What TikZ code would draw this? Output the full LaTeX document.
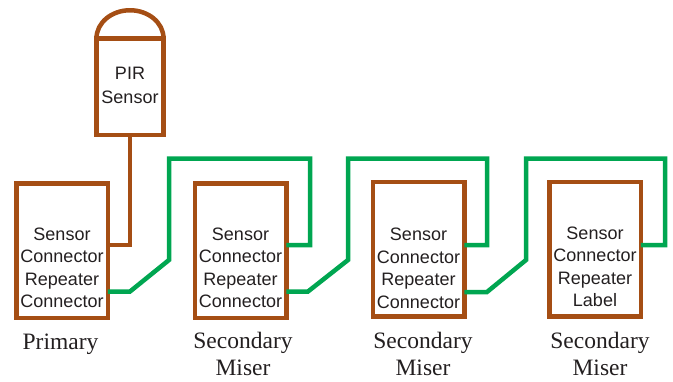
\documentclass[tikz,border=0pt]{standalone}
\usepackage{fontspec}
\setmainfont{Liberation Serif}
\setsansfont{Liberation Sans}
\definecolor{brn}{RGB}{165,78,20}
\definecolor{grn}{RGB}{0,166,81}
\definecolor{txt}{RGB}{35,31,32}
\begin{document}
\begin{tikzpicture}[x=1pt,y=-1pt,
  box/.style={draw=brn, line width=4.5pt, minimum width=91.5pt, minimum height=134.5pt, inner sep=0pt, outer sep=0pt},
  boxtext/.style={font=\sffamily\fontsize{18}{22.5}\selectfont, align=center, text=txt, inner sep=0pt},
  lbl/.style={font=\rmfamily\fontsize{23.5}{27.5}\selectfont, align=center, text=txt, inner sep=0pt},
  gw/.style={draw=grn, line width=4.5pt},
  bw/.style={draw=brn, line width=4.5pt}]
\useasboundingbox (0,0) rectangle (673,381);
% boxes
\node[box] (b1) at (62,250.5) {};
\node[box] (b2) at (240.5,250.5) {};
\node[box] (b3) at (418.5,249) {};
\node[box] (b4) at (595,249) {};
\node[boxtext] (t1) at (62,268) {Sensor\\Connector\\Repeater\\Connector};
\node[boxtext] (t2) at (240.5,268) {Sensor\\Connector\\Repeater\\Connector};
\node[boxtext] (t3) at (418.5,268.5) {Sensor\\Connector\\Repeater\\Connector};
\node[boxtext] (t4) at (595,267) {Sensor\\Connector\\Repeater\\Label};
% PIR sensor
\node[box, minimum width=67pt, minimum height=96.5pt] (pir) at (130,86.5) {};
\draw[bw] (pir.north west) arc[start angle=180, end angle=360, x radius=33.5, y radius=28];
\node[boxtext, font=\sffamily\fontsize{18}{24}\selectfont] (tp) at (130,85) {PIR\\Sensor};
\coordinate (c0) at (130,245);
\draw[bw] (pir.south) -- (c0) -- (b1.east |- c0);
% green wires
\coordinate (g1a) at (130,291.5);
\coordinate (g1b) at (169,260);
\coordinate (g1c) at (169,158.5);
\coordinate (g1d) at (310,158.5);
\coordinate (g1e) at (310,245);
\draw[gw] (b1.east |- g1a) -- (g1a) -- (g1b) -- (g1c) -- (g1d) -- (g1e) -- (b2.east |- g1e);
\coordinate (g2a) at (308,291.5);
\coordinate (g2b) at (348,260);
\coordinate (g2c) at (348,158.5);
\coordinate (g2d) at (487,158.5);
\coordinate (g2e) at (487,245);
\draw[gw] (b2.east |- g2a) -- (g2a) -- (g2b) -- (g2c) -- (g2d) -- (g2e) -- (b3.east |- g2e);
\coordinate (g3a) at (487,292);
\coordinate (g3b) at (526,260);
\coordinate (g3c) at (526,158.5);
\coordinate (g3d) at (665,158.5);
\coordinate (g3e) at (665,245);
\draw[gw] (b3.east |- g3a) -- (g3a) -- (g3b) -- (g3c) -- (g3d) -- (g3e) -- (b4.east |- g3e);
% labels
\node[lbl] (l1) at (60.5,344.5) {Primary};
\node[lbl] (l2) at (243,354) {Secondary\\Miser};
\node[lbl] (l3) at (423,354) {Secondary\\Miser};
\node[lbl] (l4) at (600,354) {Secondary\\Miser};
\end{tikzpicture}
\end{document}
